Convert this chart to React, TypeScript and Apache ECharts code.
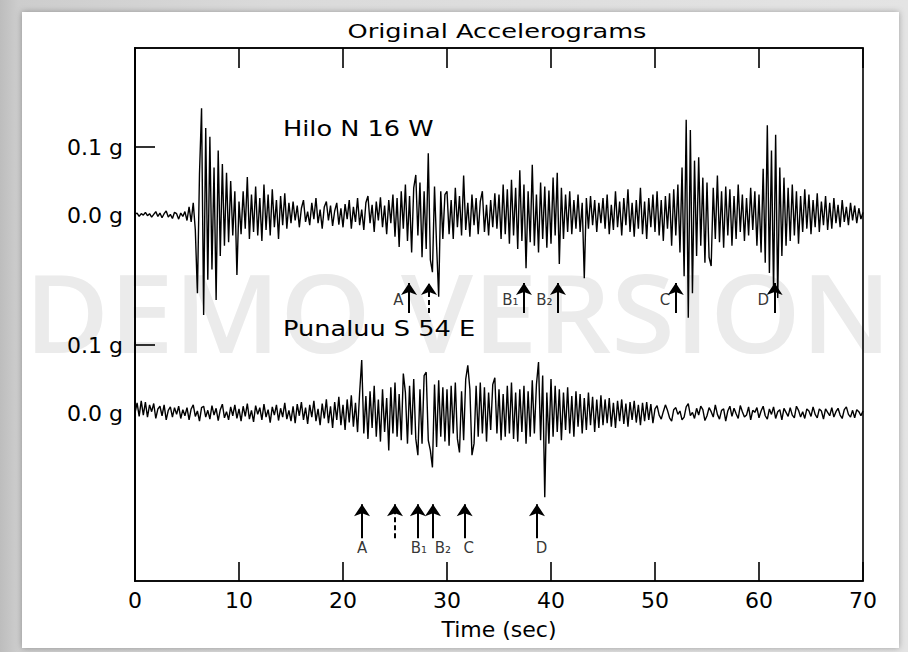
import React, { useEffect, useRef } from "react";
import * as echarts from "echarts";

// ---- data ----
const SAMPLE_STEP_SEC = 0.2;

// Hilo N 16 W, acceleration in thousandths of g, one sample every 0.2 s (0 … 70 s)
const hiloMilliG = [
  1, 3, -2, 2, 0, 4, -1, 2, -3, 1, 5, -2, 3, -4, 2, 6, -3, 1, -5, 4, 2, -6, 3, -2, 5,
  -8, 12, -10, 18, -22, -115, 60, 157, -147, 128, -95, 115, -80, 70, -125, 95, -60, 75, -45, 62, -40, 50, -30, 35, -88,
  20, -28, 35, -20, 56, -35, 30, -25, 42, -30, 25, -38, 45, -22, 30, -30, 38, -18, 22, -35, 28, -15, 32, -20, 18,
  -12, 20, -8, 14, -18, 10, 22, -10, 5, -15, 18, -6, 25, -12, 8, -20, 12, 20, -8, 14, -16, 6, 18, -14, 10,
  -18, 16, -6, 22, -20, 12, -10, 25, -15, 8, -22, 18, 28, -12, 15, -25, 20, -8, 26, -18, 14, -28, 22, -12, 30,
  -32, 25, -47, 35, -20, 45, -38, 28, -55, 40, 59, -30, 48, -62, 35, -50, 91, -66, -84, 42, -45, -120, 35, -35, 30,
  35, -28, 22, -35, 40, -18, 28, -30, 58, -22, 18, -32, 30, -15, 25, -28, 20, 35, -25, 15, -30, 22, -18, 32, -20,
  30, -35, 45, -28, 38, -42, 52, -30, 40, -50, 66, -38, 45, -78, 35, -40, 74, -45, 30, -55, 48, -35, 42, -48, 36,
  -42, 55, -30, 62, -72, 40, -35, 30, -25, 35, -28, 22, -20, 30, -25, 18, -93, 25, -20, 28, -15, 22, -25, 18, -12,
  25, -20, 30, -28, 15, -22, 35, -18, 20, -30, 25, -15, 38, -25, 18, -32, 22, -20, 40, -28, 20, -35, 25, -18, 30,
  -25, 35, -30, 22, -38, 28, -20, 32, -45, 38, -30, 45, -55, 70, -90, 140, -151, 125, -115, 80, -60, 85, -45, 55, -70,
  48, -62, -75, 40, -35, 58, -40, 35, -48, 42, -30, 38, -45, 28, -35, 45, -25, 30, -38, 25, -30, 40, -22, 35, -45,
  30, -55, 68, -70, 132, -85, 95, -110, 118, -122, 70, -60, 55, -45, 40, -38, 45, -30, 35, -42, 28, -25, 38, -20, 30,
  -28, 22, -18, 32, -25, 20, -15, 28, -22, 18, -20, 25, -12, 15, -18, 22, -10, 12, -15, 18, -8, 14, -12, 10, -6,
  4,
];

// Punaluu S 54 E, acceleration in thousandths of g, one sample every 0.2 s (0 … 70 s)
const punaluuMilliG = [
  0, 15, -5, 18, -3, 16, -6, 12, 2, 14, -8, 6, 10, -4, 12, -10, 4, 9, -6, 8, -2, 10, -8, 5, -4,
  8, -10, 6, 12, -5, 3, -12, 8, 10, -6, 4, -9, 11, -3, 7, -11, 5, 13, -7, 2, -10, 9, -4, 12, -8,
  6, -12, 10, -5, 14, -9, 4, -13, 11, -2, 8, -10, 13, -6, 5, -14, 9, -3, 12, -11, 7, -6, 15, -9, 4,
  -12, 10, -15, 13, -4, 16, -10, 8, -16, 12, -6, 18, -12, 6, -18, 14, -8, 20, -15, 10, -22, 16, -10, 24, -18,
  12, -25, 20, -14, 26, -20, 15, -28, 30, 78, -30, 25, -38, 32, -22, 40, -35, 20, -42, 35, -28, 22, -55, 38, -30,
  45, -35, 28, -40, 58, 30, -45, 40, -32, 50, -38, -62, 35, -45, 55, 60, -40, -55, -80, 42, -50, 48, -35, 38, -42,
  35, -48, 40, -30, 45, -38, -58, 32, -40, 50, 70, 35, -62, -45, 40, -35, 45, -30, 38, -42, 30, -25, 42, 52, -30,
  35, -40, 28, -35, 40, -30, 45, -38, 30, -42, 35, -28, 40, -45, 32, -35, 48, -30, 42, 75, -40, 55, -124, 30, -45,
  50, -35, 40, -28, 35, -40, 30, -25, 38, -30, 25, -35, 32, -20, 28, -30, 22, -25, 30, -18, 24, -28, 20, -22, 26,
  -18, 20, -15, 22, -20, 15, -22, 18, -12, 20, -16, 14, -20, 16, -10, 18, -14, 12, -18, 15, -12, 16, -10, 13, -15,
  6, 11, -3, -9, 2, 12, 4, -7, -12, 5, 8, -2, 3, -10, -6, 9, 14, -4, 1, -8, 7, -3, 10, 5, -11,
  -4, 8, 2, -6, 12, -2, -9, 4, 6, -12, 3, 10, -5, 7, -1, -8, 11, 2, -6, -3, 9, -10, 4, 1, 8,
  -7, 3, 10, -4, -9, 6, -2, 9, -8, 2, 5, -10, 7, 1, -5, 8, -3, -7, 10, 4, -6, 2, -8, 6, 3,
  -5, 9, -2, -7, 6, 3, -9, 6, 1, -4, 8, -6, 2, 7, -3, -8, 5, 9, -2, -6, 4, -7, 5, 2, -4,
  3,
];

// time axis
const timeMin = 0;
const timeMax = 70;
const timeStep = 10;

// amplitude axis labels (g)
const gLabelValues = [0, 0.1];
const gTickValues = [0.1];

// axis ranges (g) so that both traces share one frame
const hiloRange = [-0.538, 0.2456];
const punaluuRange = [-0.247, 0.5368];

// phase arrows on the Hilo record
const hiloArrowTimes = [26.35, 28.27, 37.4, 40.67, 52.0, 61.5];
const hiloArrowStyles = ["solid", "dashed", "solid", "solid", "solid", "solid"];
const hiloArrowFromTo = [-0.144, -0.1];
const hiloLabelNames = ["A", "B\u2081", "B\u2082", "C", "D"];
const hiloLabelTimes = [26.35, 37.4, 40.67, 52.0, 61.5];
const hiloLabelLevel = -0.125;

// phase arrows on the Punaluu record
const punaluuArrowTimes = [21.83, 25.0, 27.2, 28.65, 31.7, 38.65];
const punaluuArrowStyles = ["solid", "dashed", "solid", "solid", "solid", "solid"];
const punaluuArrowFromTo = [-0.184, -0.134];
const punaluuLabelNames = ["A", "B\u2081", "B\u2082", "C", "D"];
const punaluuLabelTimes = [21.83, 27.3, 29.6, 32.1, 39.1];
const punaluuLabelLevel = -0.199;

const FONT = "DejaVu Sans";

function toPoints(arr: number[]) {
  return arr.map((v, i) => [Math.round(i * SAMPLE_STEP_SEC * 10) / 10, v / 1000]);
}

function arrowLines(times: number[], styles: string[], fromTo: number[]) {
  return times.map((t, i) => {
    const ls = { color: "#000", width: 2, type: styles[i] === "dashed" ? [5, 3] : "solid" };
    return [
      { coord: [t, fromTo[0]], lineStyle: ls },
      { coord: [t, fromTo[1]], lineStyle: ls },
    ];
  });
}

function gLabel(v: number) {
  return `${v.toFixed(1)} g`;
}

function yAxisFor(gridIndex: number, range: number[]) {
  return {
    type: "value",
    gridIndex,
    min: range[0],
    max: range[1],
    axisLine: { show: gridIndex === 0, onZero: false, lineStyle: { color: "#000", width: 2 } },
    axisTick: {
      show: true,
      inside: true,
      length: 20,
      customValues: gTickValues,
      lineStyle: { color: "#000", width: 1.6 },
    },
    axisLabel: {
      show: true,
      customValues: gLabelValues,
      formatter: gLabel,
      color: "#000",
      fontSize: 22,
      fontFamily: FONT,
      margin: 12,
    },
    splitLine: { show: false },
  };
}

function labelSeries(
  xAxisIndex: number,
  yAxisIndex: number,
  names: string[],
  times: number[],
  level: number,
  position: string
) {
  return {
    type: "scatter",
    xAxisIndex,
    yAxisIndex,
    silent: true,
    symbolSize: 1,
    itemStyle: { color: "rgba(0,0,0,0)" },
    data: names.map((n, i) => ({ name: n, value: [times[i], level] })),
    label: {
      show: true,
      position,
      distance: 5,
      formatter: "{b}",
      color: "#000",
      fontSize: 15,
      fontFamily: FONT,
    },
    z: 5,
  };
}

export default function App() {
  const ref = useRef<HTMLDivElement>(null);

  useEffect(() => {
    if (!ref.current) return;
    const chart = echarts.init(ref.current, undefined, { renderer: "svg" });
    const gridBox = { left: 135, top: 48, width: 728, height: 533 };

    const option: any = {
      animation: false,
      backgroundColor: {
        type: "linear",
        x: 0,
        y: 0,
        x2: 1,
        y2: 0,
        colorStops: [
          { offset: 0, color: "#bdbdbd" },
          { offset: 0.02, color: "#cdcdcd" },
          { offset: 0.3, color: "#dadada" },
          { offset: 1, color: "#e4e4e4" },
        ],
      },
      graphic: [
        {
          type: "rect",
          z: -100,
          shape: { x: 22, y: 12, width: 877, height: 636 },
          style: { fill: "#ffffff", shadowBlur: 6, shadowColor: "rgba(0,0,0,0.3)" },
        },
        {
          type: "text",
          z: -50,
          x: 458,
          y: 311,
          scaleX: 1.07,
          style: {
            text: "DEMO VERSION",
            fontFamily: "Open Sans",
            fontWeight: 600,
            fontSize: 108,
            fill: "#ebebeb",
            align: "center",
            verticalAlign: "middle",
            textAlign: "center",
            textVerticalAlign: "middle",
          },
        },
        {
          type: "text",
          x: 497,
          y: 31,
          scaleX: 1.35,
          style: {
            text: "Original Accelerograms",
            fontFamily: FONT,
            fontSize: 19,
            fill: "#000",
            align: "center",
            verticalAlign: "middle",
            textAlign: "center",
            textVerticalAlign: "middle",
          },
        },
        {
          type: "text",
          x: 283,
          y: 129,
          scaleX: 1.22,
          style: {
            text: "Hilo N 16 W",
            fontFamily: FONT,
            fontSize: 21,
            fill: "#000",
            align: "left",
            verticalAlign: "middle",
            textAlign: "left",
            textVerticalAlign: "middle",
          },
        },
        {
          type: "text",
          x: 283,
          y: 329,
          scaleX: 1.22,
          style: {
            text: "Punaluu S 54 E",
            fontFamily: FONT,
            fontSize: 21,
            fill: "#000",
            align: "left",
            verticalAlign: "middle",
            textAlign: "left",
            textVerticalAlign: "middle",
          },
        },
      ],
      grid: [
        {
          ...gridBox,
          show: true,
          borderColor: "#000",
          borderWidth: 1.6,
          backgroundColor: "transparent",
          containLabel: false,
          outerBoundsMode: "none",
        },
        { ...gridBox, show: false, containLabel: false, outerBoundsMode: "none" },
      ],
      xAxis: [
        {
          type: "value",
          gridIndex: 0,
          position: "bottom",
          min: timeMin,
          max: timeMax,
          interval: timeStep,
          axisLine: { show: true, onZero: false, lineStyle: { color: "#000", width: 1.6 } },
          axisTick: { show: true, inside: true, length: 19, lineStyle: { color: "#000", width: 1.6 } },
          axisLabel: { color: "#000", fontSize: 22, fontFamily: FONT, margin: 8 },
          splitLine: { show: false },
          name: "Time (sec)",
          nameLocation: "middle",
          nameGap: 37,
          nameTextStyle: { color: "#000", fontSize: 22, fontFamily: FONT },
        },
        {
          type: "value",
          gridIndex: 0,
          position: "top",
          min: timeMin,
          max: timeMax,
          interval: timeStep,
          axisLine: { show: true, onZero: false, lineStyle: { color: "#000", width: 1.6 } },
          axisTick: { show: true, inside: true, length: 20, lineStyle: { color: "#000", width: 1.6 } },
          axisLabel: { show: false },
          splitLine: { show: false },
        },
        {
          type: "value",
          gridIndex: 1,
          min: timeMin,
          max: timeMax,
          interval: timeStep,
          show: false,
          axisLine: { show: false, onZero: false },
          splitLine: { show: false },
        },
      ],
      yAxis: [yAxisFor(0, hiloRange), yAxisFor(1, punaluuRange)],
      series: [
        {
          name: "Hilo N 16 W",
          type: "line",
          xAxisIndex: 0,
          yAxisIndex: 0,
          data: toPoints(hiloMilliG),
          showSymbol: false,
          symbol: "none",
          silent: true,
          lineStyle: { color: "#000", width: 1.4 },
          markLine: {
            silent: true,
            symbol: ["none", "arrow"],
            symbolSize: 12,
            label: { show: false },
            lineStyle: { color: "#000", width: 2 },
            itemStyle: { color: "#000" },
            data: arrowLines(hiloArrowTimes, hiloArrowStyles, hiloArrowFromTo),
          },
        },
        {
          name: "Punaluu S 54 E",
          type: "line",
          xAxisIndex: 2,
          yAxisIndex: 1,
          data: toPoints(punaluuMilliG),
          showSymbol: false,
          symbol: "none",
          silent: true,
          lineStyle: { color: "#000", width: 1.4 },
          markLine: {
            silent: true,
            symbol: ["none", "arrow"],
            symbolSize: 12,
            label: { show: false },
            lineStyle: { color: "#000", width: 2 },
            itemStyle: { color: "#000" },
            data: arrowLines(punaluuArrowTimes, punaluuArrowStyles, punaluuArrowFromTo),
          },
        },
        labelSeries(0, 0, hiloLabelNames, hiloLabelTimes, hiloLabelLevel, "left"),
        labelSeries(2, 1, punaluuLabelNames, punaluuLabelTimes, punaluuLabelLevel, "inside"),
      ],
    };

    chart.setOption(option);
    return () => {
      chart.dispose();
    };
  }, []);

  return (
    <div
      ref={ref}
      style={{ position: "absolute", left: 0, top: 0, width: 908, height: 652 }}
    />
  );
}
